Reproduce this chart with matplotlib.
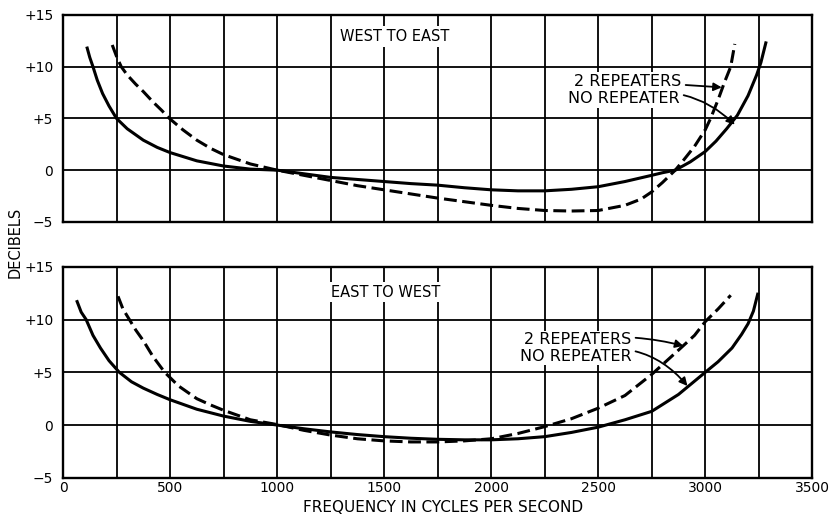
import matplotlib.pyplot as plt

# west to east (top panel)
we_none_f = [113, 125, 140, 160, 185, 215, 250, 300, 375, 440, 500, 625, 750, 875,
             1000, 1125, 1250, 1375, 1500, 1625, 1750, 1875, 2000, 2125, 2250, 2375,
             2500, 2625, 2750, 2800, 2860, 2930, 3000, 3050, 3100, 3150, 3200, 3240,
             3260, 3283]
we_none_db = [11.8, 10.9, 10, 8.7, 7.4, 6.2, 5, 4.0, 2.9, 2.2, 1.7, 0.9, 0.4, 0.1,
              0, -0.35, -0.7, -0.9, -1.1, -1.3, -1.45, -1.7, -1.9, -2.0, -2.0, -1.85,
              -1.6, -1.1, -0.5, -0.25, 0, 0.8, 1.8, 2.8, 4.0, 5.3, 7.2, 9.2,
              10.4, 12.3]
we_two_f = [230, 250, 272, 300, 340, 375, 420, 460, 497, 560, 625, 690, 750, 875,
            1000, 1125, 1250, 1375, 1500, 1625, 1750, 1875, 2000, 2125, 2250, 2375,
            2500, 2625, 2700, 2750, 2800, 2860, 2900, 2950, 3000, 3025, 3060, 3090,
            3119, 3138]
we_two_db = [12.1, 11.0, 10, 9.2, 8.3, 7.6, 6.6, 5.8, 5, 3.9, 2.9, 2.1, 1.5, 0.6,
             0, -0.5, -1.0, -1.5, -1.9, -2.3, -2.7, -3.05, -3.4, -3.7, -3.9, -3.95,
             -3.9, -3.4, -2.8, -2.1, -1.2, 0, 1.0, 2.3, 3.9, 5, 6.8, 8.5,
             10, 12.2]

# east to west (bottom panel)
ew_none_f = [66, 85, 108, 140, 175, 215, 263, 320, 375, 440, 500, 625, 750, 875,
             1000, 1125, 1250, 1375, 1500, 1625, 1750, 1875, 2000, 2125, 2250, 2375,
             2500, 2625, 2750, 2875, 3000, 3060, 3125, 3170, 3200, 3225, 3245]
ew_none_db = [11.7, 10.7, 10, 8.5, 7.3, 6.1, 5, 4.1, 3.5, 2.9, 2.4, 1.5, 0.85, 0.35,
              0, -0.35, -0.65, -0.9, -1.1, -1.25, -1.35, -1.4, -1.4, -1.3, -1.1, -0.7,
              -0.2, 0.5, 1.3, 2.9, 5.0, 6.0, 7.3, 8.6, 9.6, 10.8, 12.4]
ew_two_f = [257, 280, 310, 340, 375, 420, 475, 540, 625, 690, 750, 875,
            1000, 1125, 1250, 1375, 1500, 1625, 1750, 1875, 2000, 2125, 2250, 2375,
            2500, 2625, 2750, 2875, 2950, 3000, 3060, 3119]
ew_two_db = [12.2, 11.0, 10, 9.0, 8.0, 6.5, 5, 3.7, 2.5, 1.9, 1.4, 0.5,
             0.05, -0.5, -0.95, -1.3, -1.5, -1.6, -1.6, -1.5, -1.3, -0.8, -0.15, 0.6,
             1.6, 2.8, 4.8, 7.1, 8.5, 9.8, 11.0, 12.3]

x_ticks = [0, 500, 1000, 1500, 2000, 2500, 3000, 3500]
y_ticks = [-5, 0, 5, 10, 15]
y_labels = ['\u22125', '0', '+5', '+10', '+15']

fig = plt.figure(figsize=(8.4, 5.16), dpi=100)
ax1 = fig.add_axes([0.075, 0.570, 0.892, 0.401])
ax2 = fig.add_axes([0.075, 0.074, 0.892, 0.409])


def style(ax, show_x):
    ax.set_xlim(0, 3500)
    ax.set_ylim(-5, 15)
    ax.set_xticks(x_ticks)
    ax.set_xticks(range(250, 3500, 500), minor=True)
    ax.set_yticks(y_ticks)
    ax.set_yticklabels(y_labels, fontsize=10)
    ax.grid(which='both', color='black', linewidth=1.3)
    ax.tick_params(which='both', length=0)
    ax.tick_params(axis='y', pad=7)
    ax.tick_params(axis='x', labelsize=10, pad=2.5)
    if not show_x:
        ax.set_xticklabels([])
    for s in ax.spines.values():
        s.set_linewidth(1.7)
    ax.set_axisbelow(True)


style(ax1, False)
style(ax2, True)

dash = (0, (4.2, 1.8))
ax1.plot(we_none_f, we_none_db, color='black', lw=2.2, solid_joinstyle='round')
ax1.plot(we_two_f, we_two_db, color='black', lw=2.2, ls=dash)
ax2.plot(ew_none_f, ew_none_db, color='black', lw=2.2, solid_joinstyle='round')
ax2.plot(ew_two_f, ew_two_db, color='black', lw=2.2, ls=dash)

ax1.text(1548, 12.9, 'WEST TO EAST', ha='center', va='center', fontsize=10.5,
         bbox=dict(fc='white', ec='none', pad=2))
ax2.text(1505, 12.6, 'EAST TO WEST', ha='center', va='center', fontsize=10.5,
         bbox=dict(fc='white', ec='none', pad=2))

box = dict(fc='white', ec='none', pad=1)
arrow = dict(arrowstyle='-|>', color='black', lw=1.3, shrinkA=2, shrinkB=0,
             mutation_scale=12)
ax1.annotate('2 REPEATERS', xy=(3077, 8.0), xytext=(2889, 8.6), ha='right', va='center',
             fontsize=11.5, bbox=box, arrowprops=dict(arrow))
ax1.annotate('NO REPEATER', xy=(3138, 4.4), xytext=(2880, 6.9), ha='right', va='center',
             fontsize=11.5, bbox=box,
             arrowprops=dict(arrow, connectionstyle='arc3,rad=-0.3'))
ax2.annotate('2 REPEATERS', xy=(2898, 7.5), xytext=(2655, 8.1), ha='right', va='center',
             fontsize=11.5, bbox=box,
             arrowprops=dict(arrow, connectionstyle='arc3,rad=-0.1'))
ax2.annotate('NO REPEATER', xy=(2917, 3.7), xytext=(2655, 6.5), ha='right', va='center',
             fontsize=11.5, bbox=box,
             arrowprops=dict(arrow, connectionstyle='arc3,rad=-0.35'))

fig.text(0.018, 0.531, 'DECIBELS', rotation=90, ha='center', va='center', fontsize=10.5)
fig.text(0.527, 0.0165, 'FREQUENCY IN CYCLES PER SECOND', ha='center', va='center',
         fontsize=11)

fig.savefig('out.png', dpi=100)
